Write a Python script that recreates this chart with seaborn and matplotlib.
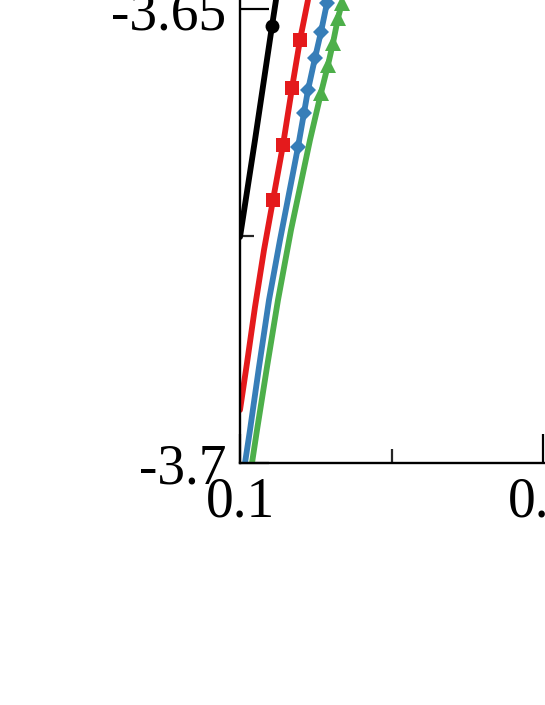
import numpy as np
import pandas as pd
import seaborn as sns
import matplotlib.pyplot as plt
from matplotlib.ticker import MultipleLocator, FormatStrFormatter

sns.set_style('ticks')
plt.rcParams['font.family'] = ['Liberation Serif', 'DejaVu Serif']

# values (x, y) - only the visible zoomed window
black_x = [0.1000, 0.10495, 0.11056, 0.11188]
black_y = [-3.67511, -3.66443, -3.65187, -3.64901]
black_mark = [2]

red_x = [0.1000, 0.10231, 0.10495, 0.10792, 0.11089, 0.11419, 0.11716, 0.11980, 0.12244]
red_y = [-3.69416, -3.68899, -3.68282, -3.67654, -3.67104, -3.66498, -3.65870, -3.65341, -3.64901]
red_mark = [4, 5, 6, 7]

blue_x = [0.10165, 0.10330, 0.10627, 0.10957, 0.11320, 0.11749, 0.11914, 0.12112, 0.12244, 0.12475, 0.12673, 0.12871]
blue_y = [-3.7000, -3.69637, -3.68943, -3.68205, -3.67544, -3.66806, -3.66520, -3.66145, -3.65892, -3.65540, -3.65253, -3.64934]
blue_mark = [6, 7, 8, 9, 10, 11]

green_x = [0.10396, 0.10561, 0.10891, 0.11254, 0.11683, 0.12310, 0.12673, 0.12904, 0.13069, 0.13234, 0.13366]
green_y = [-3.7000, -3.69637, -3.68943, -3.68205, -3.67434, -3.66443, -3.65925, -3.65617, -3.65374, -3.65099, -3.64934]
green_mark = [6, 7, 8, 9, 10]

series = [
    (black_x, black_y, black_mark, 'black', 'o', 10),
    (red_x, red_y, red_mark, '#e41a1c', 's', 9.5),
    (blue_x, blue_y, blue_mark, '#377eb8', 'D', 8.5),
    (green_x, green_y, green_mark, '#4daf4a', '^', 11),
]

fig = plt.figure(figsize=(5.45, 7.05), dpi=100)
# zoomed window: axes run off the right and top edges of the figure
ax = fig.add_axes([240/545, 242/705, 606/545, 908/705])

for xs, ys, mk, col, m, ms in series:
    df = pd.DataFrame({'x': xs, 'y': ys})
    sns.lineplot(data=df, x='x', y='y', ax=ax, color=col, linewidth=4.2,
                 sort=False, estimator=None, marker=m, markersize=ms,
                 markevery=mk, markeredgewidth=0)

ax.set_xlim(0.1, 0.3)
ax.set_ylim(-3.7, -3.6)
ax.xaxis.set_major_locator(MultipleLocator(0.1))
ax.xaxis.set_minor_locator(MultipleLocator(0.05))
ax.yaxis.set_major_locator(MultipleLocator(0.05))
ax.yaxis.set_minor_locator(MultipleLocator(0.025))
ax.xaxis.set_major_formatter(FormatStrFormatter('%g'))
ax.yaxis.set_major_formatter(FormatStrFormatter('%g'))
ax.tick_params(which='major', direction='in', length=21, width=1.6, labelsize=40, colors='black')
ax.tick_params(which='minor', direction='in', length=10, width=1.6)
ax.tick_params(axis='x', which='major', pad=9.5)
ax.tick_params(axis='y', which='major', pad=10)
ax.set_xlabel('')
ax.set_ylabel('')
for s in ax.spines.values():
    s.set_linewidth(1.7)
    s.set_color('black')

fig.savefig('out.png', dpi=100)
